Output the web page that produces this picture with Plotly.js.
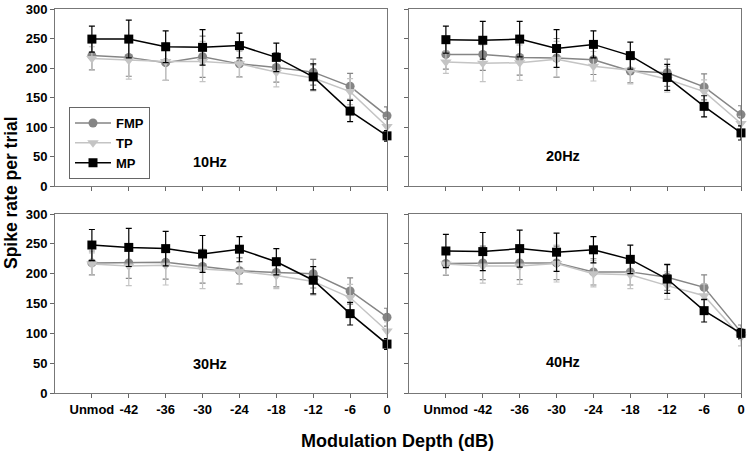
<!DOCTYPE html>
<html>
<head>
<meta charset="utf-8">
<script src="https://cdn.plot.ly/plotly-3.0.1.min.js"></script>
<style>html,body{margin:0;padding:0;background:#fff}#chart{width:750px;height:455px}</style>
</head>
<body>
<div id="chart"></div>
<script>
// Categories (modulation depth)
const categories = ["Unmod", "-42", "-36", "-30", "-24", "-18", "-12", "-6", "0"];
const seriesNames = ["FMP", "TP", "MP"];
const panelLabels = ["10Hz", "20Hz", "30Hz", "40Hz"];

// 10 Hz
const fmp10 = [221, 218, 209, 219, 207, 201, 193, 169, 119];
const fmp10Err = [24, 32, 30, 35, 22, 25, 22, 22, 15];
const tp10 = [216, 213, 211, 211, 207, 193, 183, 160, 101];
const tp10Err = [20, 32, 32, 34, 23, 25, 22, 22, 15];
const mp10 = [249, 249, 236, 235, 238, 218, 185, 127, 85];
const mp10Err = [22, 32, 27, 30, 21, 24, 22, 18, 9];

// 20 Hz
const fmp20 = [223, 223, 218, 217, 214, 195, 192, 168, 121];
const fmp20Err = [25, 27, 30, 33, 25, 20, 23, 22, 15];
const tp20 = [210, 208, 209, 215, 203, 196, 181, 160, 106];
const tp20Err = [19, 31, 30, 30, 25, 23, 22, 20, 12];
const mp20 = [248, 247, 249, 233, 240, 221, 184, 135, 90];
const mp20Err = [23, 32, 30, 32, 23, 23, 22, 18, 12];

// 30 Hz
const fmp30 = [218, 218, 219, 212, 205, 202, 200, 171, 127];
const fmp30Err = [20, 26, 28, 28, 22, 24, 24, 22, 15];
const tp30 = [216, 213, 214, 208, 204, 197, 187, 160, 104];
const tp30Err = [19, 33, 33, 33, 22, 22, 23, 22, 15];
const mp30 = [248, 244, 242, 233, 241, 220, 189, 133, 82];
const mp30Err = [26, 32, 29, 31, 21, 22, 23, 19, 9];

// 40 Hz
const fmp40 = [217, 218, 218, 218, 203, 203, 194, 177, 102];
const fmp40Err = [20, 28, 28, 28, 22, 22, 22, 21, 12];
const tp40 = [216, 213, 213, 217, 200, 198, 180, 163, 94];
const tp40Err = [18, 29, 31, 31, 22, 23, 23, 20, 15];
const mp40 = [238, 237, 242, 236, 240, 224, 191, 138, 100];
const mp40Err = [28, 32, 31, 32, 22, 24, 24, 19, 8];

const panels = [
  [[fmp10, fmp10Err], [tp10, tp10Err], [mp10, mp10Err]],
  [[fmp20, fmp20Err], [tp20, tp20Err], [mp20, mp20Err]],
  [[fmp30, fmp30Err], [tp30, tp30Err], [mp30, mp30Err]],
  [[fmp40, fmp40Err], [tp40, tp40Err], [mp40, mp40Err]]
];

const FONT = "Liberation Sans, Arial, Helvetica, sans-serif";
const styles = [
  {color: "#858585", symbol: "circle", size: 9},
  {color: "#c4c4c4", symbol: "triangle-down", size: 10},
  {color: "#000000", symbol: "square", size: 9}
];

const xIdx = categories.map((c, i) => i);
const traces = [];
panels.forEach((panel, p) => {
  const sfx = p === 0 ? "" : String(p + 1);
  panel.forEach((s, k) => {
    traces.push({
      type: "scatter", mode: "lines+markers",
      name: seriesNames[k],
      x: xIdx, y: s[0],
      error_y: {type: "data", array: s[1], visible: true, color: styles[k].color, thickness: 1.2, width: 3},
      line: {color: styles[k].color, width: 1.5},
      marker: {color: styles[k].color, symbol: styles[k].symbol, size: styles[k].size},
      xaxis: "x" + sfx, yaxis: "y" + sfx,
      showlegend: p === 0, cliponaxis: false
    });
  });
});

const W = 750, H = 455;
const colX = [[55, 387], [409, 741]];
const rowY = [[9, 186], [214, 393]];
function xd(c) { return [colX[c][0] / W, colX[c][1] / W]; }
function yd(r) { return [1 - rowY[r][1] / H, 1 - rowY[r][0] / H]; }

function xaxis(c, r, anchor) {
  return {
    domain: xd(c), anchor: anchor, range: [-1, 8],
    tickmode: "array", tickvals: xIdx, ticktext: categories,
    showticklabels: r === 1,
    ticks: "outside", ticklen: 4, tickcolor: "#666", tickwidth: 1,
    showline: true, linecolor: "#777", linewidth: 1, mirror: true,
    showgrid: false, zeroline: false,
    tickfont: {family: FONT, size: 13, color: "#000", weight: "bold"}
  };
}
function yaxis(c, r, anchor) {
  return {
    domain: yd(r), anchor: anchor, range: [0, 300],
    tickmode: "linear", tick0: 0, dtick: 50,
    showticklabels: c === 0,
    ticks: "outside", ticklen: 4, tickcolor: "#666", tickwidth: 1,
    showline: true, linecolor: "#777", linewidth: 1, mirror: true,
    showgrid: false, zeroline: false,
    tickfont: {family: FONT, size: 13, color: "#000", weight: "bold"}
  };
}

const annPos = [[210, 162], [563, 156], [210, 364], [563, 362]];
const annotations = panelLabels.map((t, i) => ({
  text: t, xref: "paper", yref: "paper",
  x: annPos[i][0] / W, y: 1 - annPos[i][1] / H,
  xanchor: "center", yanchor: "middle", showarrow: false,
  font: {family: FONT, size: 14.5, color: "#000", weight: "bold"}
}));
annotations.push({
  text: "Spike rate per trial", xref: "paper", yref: "paper",
  x: 11 / W, y: 1 - 193 / H, textangle: -90,
  xanchor: "center", yanchor: "middle", showarrow: false,
  font: {family: FONT, size: 17.5, color: "#000", weight: "bold"}
});
annotations.push({
  text: "Modulation Depth (dB)", xref: "paper", yref: "paper",
  x: 398 / W, y: 1 - 441 / H,
  xanchor: "center", yanchor: "middle", showarrow: false,
  font: {family: FONT, size: 18, color: "#000", weight: "bold"}
});

const layout = {
  width: W, height: H,
  margin: {l: 0, r: 0, t: 0, b: 0},
  paper_bgcolor: "#fff", plot_bgcolor: "#fff",
  font: {family: FONT, color: "#000"},
  xaxis: xaxis(0, 0, "y"), yaxis: yaxis(0, 0, "x"),
  xaxis2: xaxis(1, 0, "y2"), yaxis2: yaxis(1, 0, "x2"),
  xaxis3: xaxis(0, 1, "y3"), yaxis3: yaxis(0, 1, "x3"),
  xaxis4: xaxis(1, 1, "y4"), yaxis4: yaxis(1, 1, "x4"),
  showlegend: true,
  legend: {
    x: 69 / W, y: 1 - 107 / H, xanchor: "left", yanchor: "top",
    bgcolor: "#fff", bordercolor: "#666", borderwidth: 1,
    font: {family: FONT, size: 13, color: "#000", weight: "bold"},
    itemwidth: 36, tracegroupgap: 0
  },
  annotations: annotations
};

Plotly.newPlot("chart", traces, layout, {displayModeBar: false, staticPlot: true});
</script>
</body>
</html>
